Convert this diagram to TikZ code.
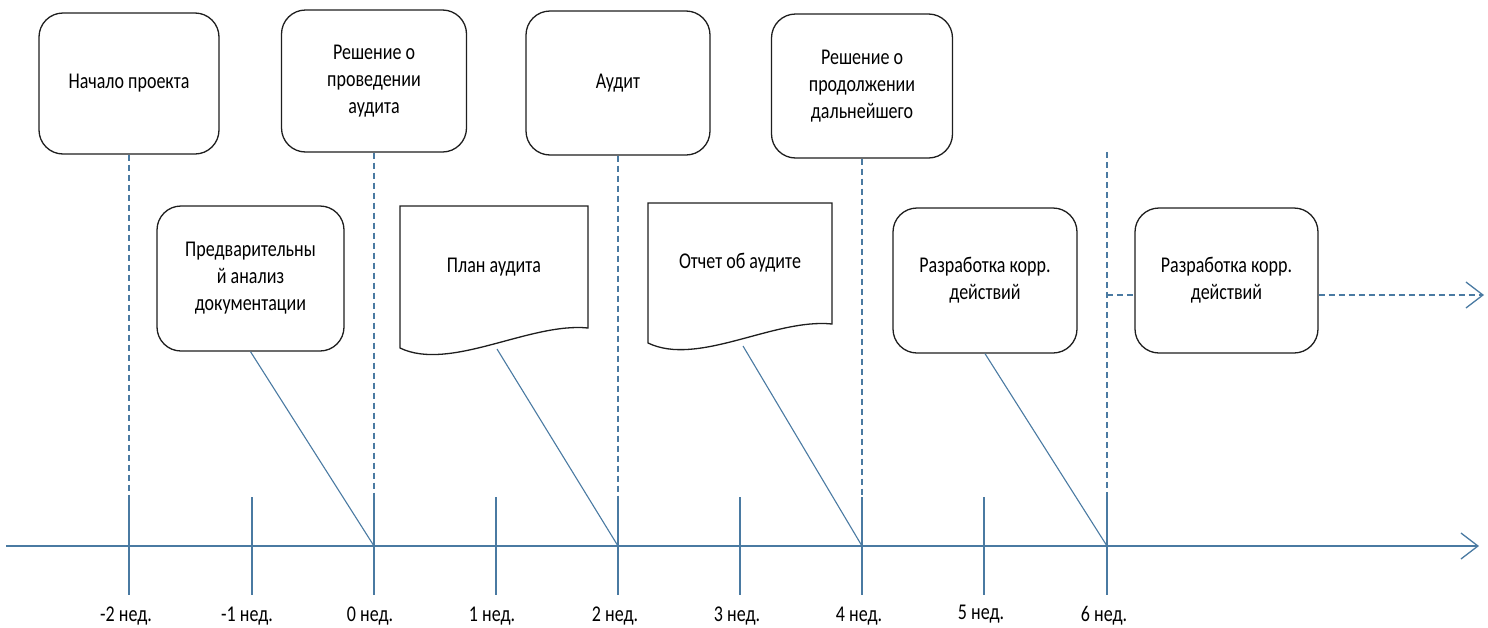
\documentclass[tikz,border=0pt]{standalone}
\usepackage{fontspec}
\usetikzlibrary{arrows.meta}
\newfontfamily\lblfont[FakeStretch=0.8]{Carlito}
\definecolor{axisblue}{RGB}{74,122,162}
\definecolor{boxline}{RGB}{30,30,30}
\tikzset{
  rbox/.style={draw=boxline, line width=1.3pt, rounded corners=24pt, fill=white,
    align=center, font=\lblfont\fontsize{22.5}{27}\selectfont, inner sep=0pt},
  doctext/.style={align=center, font=\lblfont\fontsize{22.5}{27}\selectfont, inner sep=0pt},
  docline/.style={draw=boxline, line width=1.3pt, fill=white},
  axisline/.style={draw=axisblue, line width=1.7pt},
  tickline/.style={draw=axisblue, line width=1.1pt},
  dashline/.style={draw=axisblue, line width=1.1pt, dash pattern=on 6pt off 4pt},
  slant/.style={draw=axisblue, line width=1.1pt},
  weeklabel/.style={font=\lblfont\fontsize{22.5}{27}\selectfont, inner sep=0pt},
  openarrow/.style={-{Straight Barb[length=17pt,width=26pt,line width=1.3pt]}}
}
\begin{document}
\begin{tikzpicture}[x=1pt,y=-1pt]
\useasboundingbox (0,0) rectangle (1488,627);

% tick coordinates
\foreach \n/\x in {m2/129,m1/252,z0/374,p1/496,p2/618,p3/740,p4/862,p5/984,p6/1107}{
  \coordinate (t\n) at (\x,497);
  \coordinate (a\n) at (\x,546);
  \coordinate (b\n) at (\x,595);
}

% top boxes
\node[rbox, minimum width=180pt, minimum height=141pt] (b1) at (129,83.5) {Начало проекта};
\node[rbox, minimum width=185pt, minimum height=142pt] (b2) at (374,81) {Решение о\\проведении\\аудита};
\node[rbox, minimum width=184pt, minimum height=144pt] (b3) at (618,83) {Аудит};
\node[rbox, minimum width=181pt, minimum height=144pt] (b4) at (862,86) {Решение о\\продолжении\\дальнейшего};

% middle boxes
\node[rbox, minimum width=187pt, minimum height=145pt] (b5) at (250.5,278.5) {Предварительны\\й анализ\\документации};
\node[rbox, minimum width=184pt, minimum height=145pt] (b8) at (985,280.5) {Разработка корр.\\действий};
\node[rbox, minimum width=183pt, minimum height=145pt] (b9) at (1226.5,280.5) {Разработка корр.\\действий};

% document shapes
\path[docline] (400,206) -- (588,206) -- (588,328)
  .. controls (530,322) and (450,372) .. (400,348) -- cycle;
\coordinate (pl) at (497,349);
\node[doctext] (plan) at (494,267) {План аудита};

\path[docline] (648,203) -- (832,203) -- (832,324)
  .. controls (774,318) and (698,367) .. (648,343) -- cycle;
\coordinate (rp) at (743,346);
\node[doctext] (rep) at (740,263) {Отчет об аудите};

% axis
\coordinate (axstart) at (6,546);
\coordinate (axend) at (1479,546);
\draw[axisline, openarrow] (axstart) -- (axend);

% ticks
\foreach \n in {m2,m1,z0,p1,p2,p3,p4,p5,p6}{
  \draw[tickline] (t\n) -- (b\n);
}

% dashed verticals
\draw[dashline] (b1.south) -- (tm2);
\draw[dashline] (b2.south) -- (tz0);
\draw[dashline] (b3.south) -- (tp2);
\draw[dashline] (b4.south) -- (tp4);
\coordinate (top6) at (1107,152);
\draw[dashline] (top6) -- (tp6);

% horizontal dashed to last box
\coordinate (h6) at (1107,295);
\coordinate (arrend) at (1484,295);
\draw[dashline] (h6) -- (h6 -| b9.west);
\draw[dashline, openarrow] (h6 -| b9.east) -- (arrend);

% slanted connectors
\draw[slant] (b5.south) -- (az0);
\draw[slant] (pl) -- (ap2);
\draw[slant] (rp) -- (ap4);
\draw[slant] (b8.south) -- (ap6);

% week labels
\node[weeklabel] (l1) at (126,616) {-2 нед.};
\node[weeklabel] (l2) at (247,616) {-1 нед.};
\node[weeklabel] (l3) at (370,616) {0 нед.};
\node[weeklabel] (l4) at (492,616) {1 нед.};
\node[weeklabel] (l5) at (615,616) {2 нед.};
\node[weeklabel] (l6) at (737,616) {3 нед.};
\node[weeklabel] (l7) at (859,616) {4 нед.};
\node[weeklabel] (l8) at (981,614) {5 нед.};
\node[weeklabel] (l9) at (1104,616) {6 нед.};
\end{tikzpicture}
\end{document}
